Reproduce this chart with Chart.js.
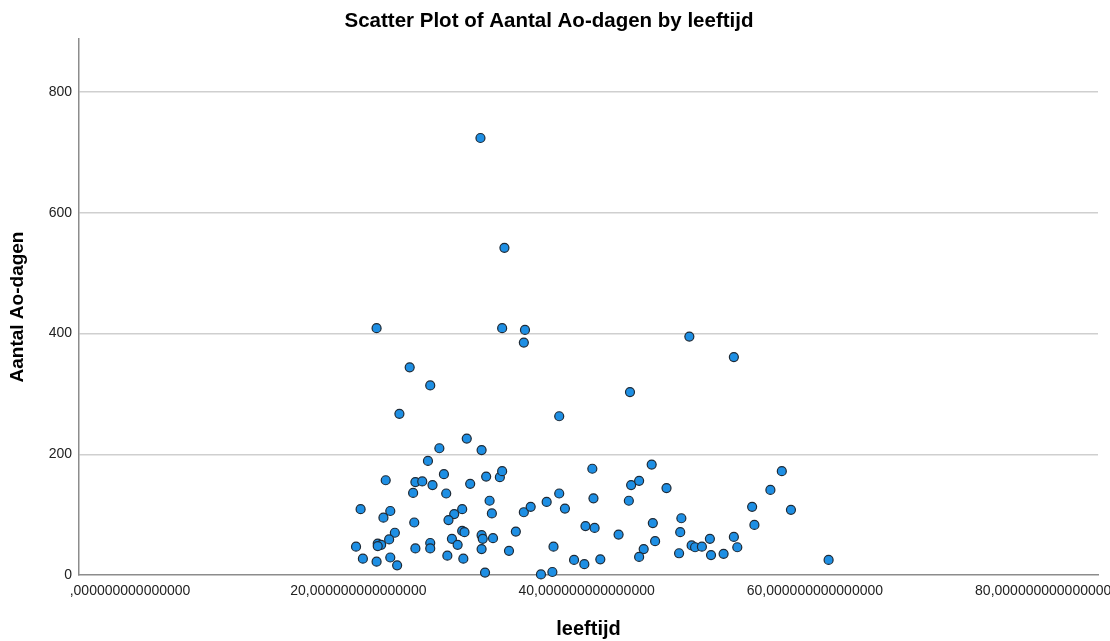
<!DOCTYPE html>
<html>
<head>
<meta charset="utf-8">
<title>Scatter Plot of Aantal Ao-dagen by leeftijd</title>
<script src="https://cdn.jsdelivr.net/npm/chart.js@4.4.0/dist/chart.umd.min.js"></script>
<style>
    html, body { margin: 0; padding: 0; background: #fff; overflow: hidden; }
    #wrap { position: relative; width: 1112px; height: 641px; }
</style>
</head>
<body>
<div id="wrap"><canvas id="chart"></canvas></div>
<script>
// leeftijd (x) and Aantal Ao-dagen (y)
const leeftijd = [
    30.7, 32.8, 21.6, 32.6, 34.6, 34.5, 24.5, 26.3, 23.6, 37.6, 43.8, 49.0, 52.9, 29.5,
    27.1, 30.8, 26.1, 27.5, 22.4, 25.0, 25.6, 26.5, 31.2, 32.4, 32.6, 29.8, 24.8, 27.7,
    31.5, 37.6, 36.5, 20.2, 22.8, 22.2, 29.1, 28.4, 27.9, 31.7, 34.5, 35.1, 38.1, 24.9,
    23.2, 29.1, 29.3, 33.8, 22.7, 21.7, 22.0, 21.7, 19.8, 28.2, 30.8, 30.9, 31.8, 26.3,
    26.3, 25.0, 28.7, 30.8, 33.2, 37.1, 20.4, 21.6, 22.8, 23.4, 27.8, 29.2, 38.9, 31.1,
    36.0, 37.0, 40.5, 45.7, 43.9, 44.6, 47.0, 40.6, 43.7, 57.1, 56.1, 54.5, 57.9, 39.9,
    40.7, 42.8, 45.8, 48.3, 48.2, 54.7, 46.0, 45.0, 44.6, 49.2, 49.5, 50.1, 50.8, 52.9,
    53.2, 48.1, 50.9, 52.0, 39.8, 41.2, 61.2
];
const aoDagen = [
    724, 542, 409, 409, 406, 385, 344, 314, 267, 263, 303, 395, 361, 226,
    210, 207, 189, 167, 157, 154, 155, 149, 163, 162, 172, 151, 136, 135,
    123, 135, 121, 109, 106, 95, 109, 101, 91, 102, 104, 113, 110, 87,
    70, 73, 71, 72, 59, 52, 50, 48, 47, 60, 66, 60, 61, 53,
    44, 44, 50, 43, 40, 47, 27, 22, 29, 16, 32, 27, 25, 4,
    1, 5, 176, 183, 149, 156, 144, 127, 123, 172, 141, 113, 108, 81,
    78, 67, 86, 94, 71, 83, 56, 43, 30, 49, 46, 47, 60, 63,
    46, 36, 33, 35, 18, 26, 25
];

const xTicks = [0, 20, 40, 60, 80];
const xTickLabels = [',000000000000000', '20,000000000000000', '40,000000000000000',
    '60,000000000000000', '80,000000000000000'];
const yTicks = [0, 200, 400, 600, 800];

Chart.defaults.font.family = "'Liberation Sans', Arial, sans-serif";

const points = leeftijd.map((x, i) => ({ x: x, y: aoDagen[i] }));

new Chart(document.getElementById('chart'), {
    type: 'scatter',
    data: {
        datasets: [{
            label: 'Aantal Ao-dagen',
            data: points,
            backgroundColor: 'rgb(30, 143, 228)',
            borderColor: '#1e2a36',
            borderWidth: 1.2,
            pointRadius: 4.5,
            pointHoverRadius: 4.5,
            clip: false
        }]
    },
    options: {
        responsive: true,
        maintainAspectRatio: false,
        animation: false,
        layout: { padding: { right: 14 } },
        scales: {
            x: {
                type: 'linear',
                min: -4.47,
                max: 84.8,
                afterBuildTicks: s => { s.ticks = xTicks.map(v => ({ value: v })); },
                afterFit: s => { s.height = 66; s.paddingLeft = 0; s.paddingRight = 0; },
                ticks: {
                    callback: (v, i) => xTickLabels[i],
                    font: { size: 14 },
                    color: '#222',
                    padding: 8,
                    maxRotation: 0,
                    autoSkip: false
                },
                grid: { display: false, drawTicks: false },
                border: { display: true, color: '#8c8c8c', width: 1.5 },
                title: {
                    display: true,
                    text: 'leeftijd',
                    color: '#000',
                    font: { size: 20, weight: 'bold' },
                    padding: { top: 17, bottom: 0 }
                }
            },
            y: {
                min: 0,
                max: 888,
                afterBuildTicks: s => { s.ticks = yTicks.map(v => ({ value: v })); },
                afterFit: s => { s.width = 79; s.paddingTop = 0; s.paddingBottom = 0; },
                ticks: {
                    font: { size: 14 },
                    color: '#222',
                    padding: 7
                },
                grid: {
                    drawTicks: false,
                    lineWidth: 1.5,
                    color: c => (c.tick && c.tick.value === 0) ? 'rgba(0,0,0,0)' : '#cfcfcf'
                },
                border: { display: true, color: '#8c8c8c', width: 1.5 },
                title: {
                    display: true,
                    text: 'Aantal Ao-dagen',
                    color: '#000',
                    font: { size: 19, weight: 'bold' },
                    padding: { top: 6, bottom: 0 }
                }
            }
        },
        plugins: {
            title: {
                display: true,
                text: 'Scatter Plot of Aantal Ao-dagen by leeftijd',
                color: '#000',
                font: { size: 20.5, weight: 'bold' },
                padding: { top: 9, bottom: 5.4 }
            },
            legend: { display: false },
            tooltip: { enabled: false }
        }
    }
});
</script>
</body>
</html>
